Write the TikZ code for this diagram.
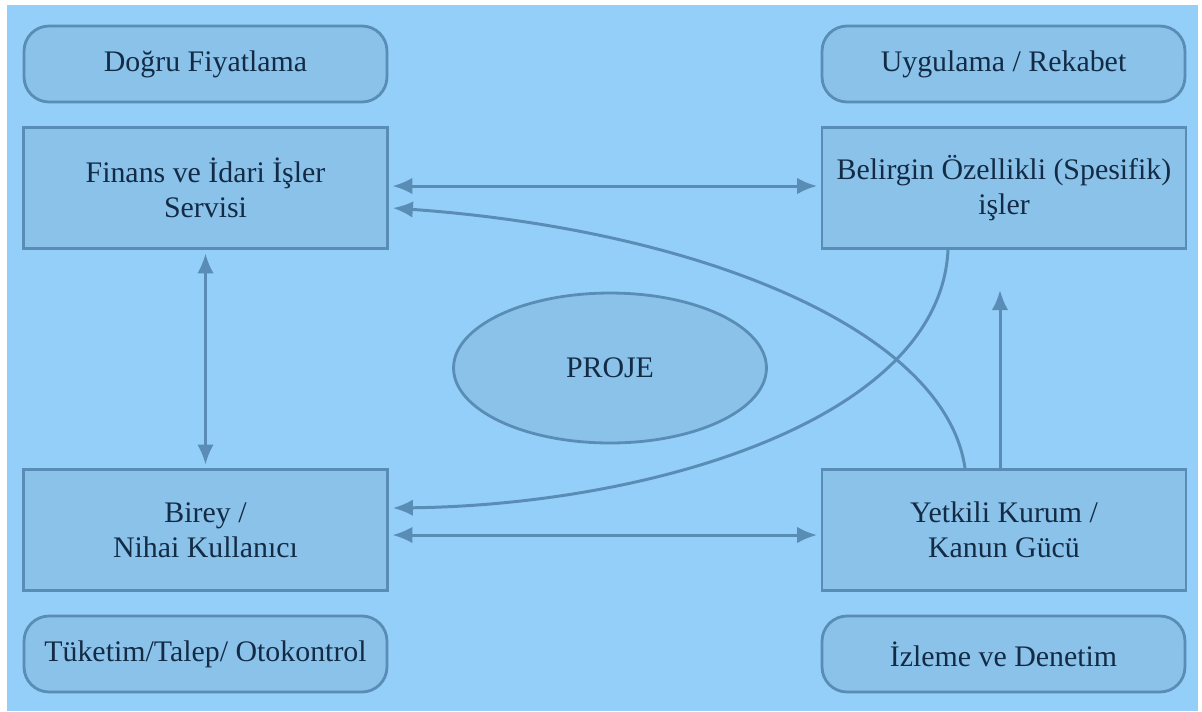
\documentclass[tikz,border=0pt]{standalone}
\usepackage{fontspec}
\setmainfont{Liberation Serif}
\usepackage{xcolor}
\usetikzlibrary{arrows.meta,positioning,calc,shapes.geometric}

\definecolor{bgblue}{HTML}{94CFFA}
\definecolor{boxblue}{HTML}{8AC2EA}
\definecolor{edgeblue}{HTML}{5A8DB6}
\definecolor{txtnavy}{HTML}{132B45}

\begin{document}
\begin{tikzpicture}[
                x=0.02cm, y=-0.02cm,
                font=\fontsize{17}{20}\selectfont,
                roundbox/.style={draw=edgeblue, line width=1.6pt, fill=boxblue, text=txtnavy, rounded corners=0.5cm, align=center, minimum width=7.26cm, minimum height=1.52cm},
                sqbox/.style={draw=edgeblue, line width=1.6pt, fill=boxblue, text=txtnavy, align=center, minimum width=7.28cm, minimum height=2.42cm},
                projbox/.style={ellipse, draw=edgeblue, line width=1.6pt, fill=boxblue, text=txtnavy, minimum width=6.26cm, minimum height=3.0cm},
                link/.style={-{Latex[length=4mm,width=3.3mm]}, edgeblue, line width=1.7pt},
                duallink/.style={{Latex[length=4mm,width=3.3mm]}-{Latex[length=4mm,width=3.3mm]}, edgeblue, line width=1.7pt, shorten <=2pt, shorten >=2pt}
            ]
            \fill[white] (0,0) rectangle (1202,711);
            \fill[bgblue] (7,5) rectangle (1198,711);
            \useasboundingbox (0,0) rectangle (1202,711);
            % top row
            \node[roundbox] (pricing) at (205.5,64) {Doğru Fiyatlama};
            \node[roundbox] (compete) at (1003.5,64) {Uygulama / Rekabet};
            % main blocks
            \node[sqbox] (finance) at (205.5,188) {Finans ve İdari İşler\\Servisi};
            \node[sqbox] (specific) at (1004,188) {Belirgin Özellikli (Spesifik)\\işler};
            \node[sqbox] (user) at (205.5,530) {Birey /\\Nihai Kullanıcı};
            \node[sqbox] (authority) at (1004,530) {Yetkili Kurum /\\Kanun Gücü};
            \node[projbox] (proj) at (610,368) {PROJE};
            % bottom row
            \node[roundbox] (control) at (205.5,654) {Tüketim/Talep/ Otokontrol};
            \node[roundbox] (audit) at (1003.5,654) {İzleme ve Denetim};
            % connectors
            \draw[duallink] ($(finance.east)+(0,-2)$) -- ($(specific.west)+(0,-2)$);
            \draw[duallink] (finance.south) -- (user.north);
            \draw[duallink] ($(user.east)+(0,5)$) -- ($(authority.west)+(0,5)$);
            \draw[link] ($(authority.north)+(-39,0)$) .. controls (945,330) and (700,230) .. ($(finance.east)+(4,20)$);
            \draw[link] ($(specific.south)+(-56,0)$) .. controls (940,420) and (650,505) .. ($(user.east)+(4,-22)$);
            \coordinate (uptip) at (1000,290);
            \draw[link] ($(authority.north)+(-4,0)$) -- (uptip);
        \end{tikzpicture}
\end{document}
